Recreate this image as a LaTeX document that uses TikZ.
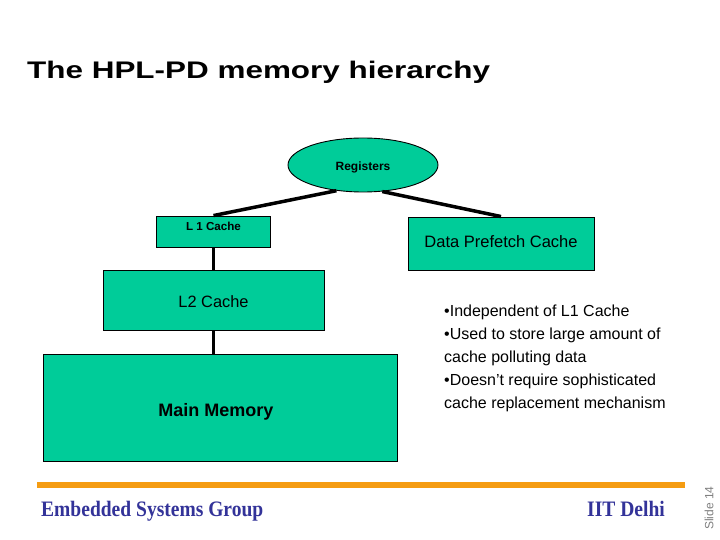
\documentclass[tikz,border=0pt]{standalone}
\usepackage{fontspec}
\setmainfont{Liberation Sans}
\newfontfamily\timesf{Liberation Serif}
\usetikzlibrary{shapes.geometric}
\definecolor{teal1}{RGB}{0,204,153}
\definecolor{orange1}{RGB}{245,156,18}
\definecolor{navy1}{RGB}{51,51,153}
\definecolor{gray1}{RGB}{128,128,128}
\tikzset{
  memnode/.style={draw=black, line width=0.9pt, fill=teal1, rectangle, inner sep=0pt},
  conn/.style={line width=3.5pt, black},
  vconn/.style={line width=3pt, black},
}
\begin{document}
\begin{tikzpicture}[x=1pt, y=-1pt]
\useasboundingbox (0,0) rectangle (720,540);
\fill[white] (0,0) rectangle (720,540);
% title
\node[anchor=base west, inner sep=0pt, font=\bfseries\fontsize{24}{28}\selectfont] (title) at (27,79) {\scalebox{1.31}[1]{The HPL-PD memory hierarchy}};
% nodes
\node[memnode, ellipse, minimum width=150, minimum height=54, label={[font=\bfseries\fontsize{12}{14}\selectfont, yshift=-2.5pt]center:Registers}] (reg) at (363,165) {};
\node[memnode, minimum width=114, minimum height=31, label={[font=\bfseries\fontsize{11.6}{14}\selectfont, yshift=5pt]center:L 1 Cache}] (l1) at (213.5,231.5) {};
\node[memnode, minimum width=186, minimum height=53, label={[font=\fontsize{16.5}{20}\selectfont, yshift=2pt]center:Data Prefetch Cache}] (dp) at (501,243.5) {};
\node[memnode, minimum width=221, minimum height=60, label={[font=\fontsize{16.4}{20}\selectfont, yshift=-1.5pt]center:L2 Cache}] (l2) at (213.5,300) {};
\node[memnode, minimum width=354, minimum height=107, label={[font=\bfseries\fontsize{18}{22}\selectfont, xshift=-4pt, yshift=-4pt]center:Main Memory}] (mm) at (220,407.5) {};
% connectors
\draw[conn] (reg.224) -- (l1.north);
\draw[conn] (reg.306.5) -- (dp.north);
\draw[vconn] (l1.south) -- (l2.north);
\draw[vconn] (l2.south) -- (l2.south |- mm.north);
% bullets
\node[anchor=west, align=left, inner sep=0pt, font=\fontsize{16}{23}\selectfont] (notes) at (444,358.5) {%
•Independent of L1 Cache\\
•Used to store large amount of\\
cache polluting data\\
•Doesn’t require sophisticated\\
cache replacement mechanism};
% footer
\fill[orange1] (37,482) rectangle (685,488);
\node[anchor=base west, inner sep=0pt, text=navy1, font=\timesf\bfseries\fontsize{21}{24}\selectfont] (esg) at (41,516) {\scalebox{0.93}[1.05]{Embedded Systems Group}};
\node[anchor=base east, inner sep=0pt, text=navy1, font=\timesf\bfseries\fontsize{21}{24}\selectfont] (iit) at (665,516) {\scalebox{0.93}[1.05]{IIT Delhi}};
\node[rotate=90, inner sep=0pt, text=gray1, font=\fontsize{12}{14}\selectfont] (slide) at (709,508) {Slide 14};
\end{tikzpicture}
\end{document}
